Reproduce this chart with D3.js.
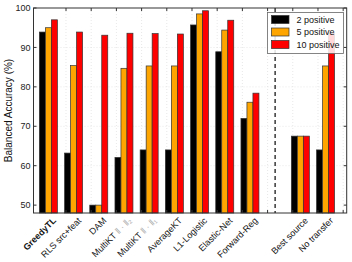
<!DOCTYPE html>
<html>
<head>
<meta charset="utf-8">
<script src="https://cdn.jsdelivr.net/npm/d3@7"></script>
<style>
body { margin: 0; background: #fff; }
text { font-family: "Liberation Sans", Arial, sans-serif; }
</style>
</head>
<body>
<svg id="chart" width="352" height="262"></svg>
<script>
var methods = ["GreedyTL", "RLS src+feat", "DAM", "MultiKT", "MultiKT", "AverageKT",
               "L1-Logistic", "Elastic-Net", "Forward-Reg", "Best source", "No transfer"];
var normSuffix = ["", "", "", "\u2016 \u00b7 \u2016\u2082", "\u2016 \u00b7 \u2016\u2081", "", "", "", "", "", ""];
var slots = [0, 1, 2, 3, 4, 5, 6, 7, 8, 10, 11];
var seriesNames = ["2 positive", "5 positive", "10 positive"];
var seriesColors = ["#000000", "#ffa500", "#ff0000"];
var pos2 = [93.9, 63.2, 50.0, 62.1, 64.0, 64.0, 95.7, 88.9, 72.0, 67.5, 64.0];
var pos5 = [95.0, 85.4, 50.0, 84.7, 85.3, 85.3, 98.5, 94.4, 76.1, 67.5, 85.3];
var pos10 = [97.0, 93.9, 93.1, 93.6, 93.5, 93.4, 99.3, 96.9, 78.4, 67.5, 93.6];
var yTicks = [50, 60, 70, 80, 90, 100];
var separatorSlot = 9;

var series = [pos2, pos5, pos10];
var plotL = 33.5, plotR = 346.7, plotT = 8, plotB = 213;

var svg = d3.select("#chart");

var xScale = d3.scaleLinear()
	.domain([-0.59, 11.84])
	.range([plotL, plotR]);

var yScale = d3.scaleLinear()
	.domain([48, 100])
	.range([plotB, plotT]);

var barW = xScale(0.238) - xScale(0);

// grid
var gridX = d3.range(0, 12).map(function(i) { return i + 0.7; });
svg.selectAll(".vgrid")
	.data(gridX)
	.enter().append("line")
		.attr("x1", function(d) { return xScale(d); })
		.attr("x2", function(d) { return xScale(d); })
		.attr("y1", plotT)
		.attr("y2", plotB)
		.attr("stroke", "#d8d8d8")
		.attr("stroke-width", 0.6)
		.attr("stroke-dasharray", "1,2");

svg.selectAll(".hgrid")
	.data(yTicks.slice(1, -1))
	.enter().append("line")
		.attr("x1", plotL)
		.attr("x2", plotR)
		.attr("y1", function(d) { return yScale(d); })
		.attr("y2", function(d) { return yScale(d); })
		.attr("stroke", "#d8d8d8")
		.attr("stroke-width", 0.6)
		.attr("stroke-dasharray", "1,2");

// bars
series.forEach(function(vals, s) {
	svg.selectAll(".bar" + s)
		.data(vals)
		.enter().append("rect")
			.attr("x", function(d, i) { return xScale(slots[i]) + (s - 1.5) * barW; })
			.attr("y", function(d) { return yScale(d); })
			.attr("width", barW)
			.attr("height", function(d) { return plotB - yScale(d); })
			.attr("fill", seriesColors[s])
			.attr("stroke", "#333")
			.attr("stroke-width", 0.7);
});

// separator
svg.append("line")
	.attr("x1", xScale(separatorSlot))
	.attr("x2", xScale(separatorSlot))
	.attr("y1", plotT)
	.attr("y2", plotB)
	.attr("stroke", "#444")
	.attr("stroke-width", 1.6)
	.attr("stroke-dasharray", "4,3");

// box
svg.append("rect")
	.attr("x", plotL)
	.attr("y", plotT)
	.attr("width", plotR - plotL)
	.attr("height", plotB - plotT)
	.attr("fill", "none")
	.attr("stroke", "#333")
	.attr("stroke-width", 1);

// y ticks
yTicks.forEach(function(t) {
	svg.append("line").attr("x1", plotL).attr("x2", plotL + 3)
		.attr("y1", yScale(t)).attr("y2", yScale(t)).attr("stroke", "#333");
	svg.append("line").attr("x1", plotR).attr("x2", plotR - 3)
		.attr("y1", yScale(t)).attr("y2", yScale(t)).attr("stroke", "#333");
	svg.append("text")
		.attr("x", plotL - 3)
		.attr("y", yScale(t))
		.attr("dy", "0.35em")
		.attr("text-anchor", "end")
		.attr("font-size", 9)
		.attr("fill", "#222")
		.text(t);
});

gridX.forEach(function(t) {
	svg.append("line").attr("x1", xScale(t)).attr("x2", xScale(t))
		.attr("y1", plotT).attr("y2", plotT + 3).attr("stroke", "#333");
	svg.append("line").attr("x1", xScale(t)).attr("x2", xScale(t))
		.attr("y1", plotB).attr("y2", plotB - 3).attr("stroke", "#333");
});

// x labels
var labels = svg.selectAll(".xlabel")
	.data(methods)
	.enter().append("text")
		.attr("transform", function(d, i) {
			return "translate(" + (xScale(slots[i]) + 6) + "," + 219 + ") rotate(-45)";
		})
		.attr("text-anchor", "end")
		.attr("dy", "0.35em")
		.attr("font-size", 9)
		.attr("font-weight", function(d, i) { return i === 0 ? "bold" : "normal"; })
		.attr("fill", "#111");

labels.append("tspan").text(function(d, i) { return normSuffix[i] ? d + " " : d; });
labels.append("tspan")
	.attr("fill", "#aaa")
	.text(function(d, i) { return normSuffix[i]; });

// y label
svg.append("text")
	.attr("transform", "translate(8.5," + ((plotT + plotB) / 2) + ") rotate(-90)")
	.attr("text-anchor", "middle")
	.attr("dy", "0.35em")
	.attr("font-size", 10)
	.attr("fill", "#111")
	.text("Balanced Accuracy (%)");

// legend
var lg = svg.append("g").attr("transform", "translate(267.5,12.5)");
lg.append("rect")
	.attr("width", 76)
	.attr("height", 41)
	.attr("fill", "#fff")
	.attr("fill-opacity", 0.85)
	.attr("stroke", "#666")
	.attr("stroke-width", 0.8);

lg.selectAll(".lbox")
	.data(seriesNames)
	.enter().append("rect")
		.attr("x", 4)
		.attr("y", function(d, i) { return 3 + i * 12.5; })
		.attr("width", 17.5)
		.attr("height", 8)
		.attr("fill", function(d, i) { return seriesColors[i]; })
		.attr("stroke", "#333")
		.attr("stroke-width", 0.7);

lg.selectAll(".ltext")
	.data(seriesNames)
	.enter().append("text")
		.attr("x", 29)
		.attr("y", function(d, i) { return 7 + i * 12.5; })
		.attr("dy", "0.35em")
		.attr("font-size", 9)
		.attr("fill", "#111")
		.text(function(d) { return d; });
</script>
</body>
</html>
